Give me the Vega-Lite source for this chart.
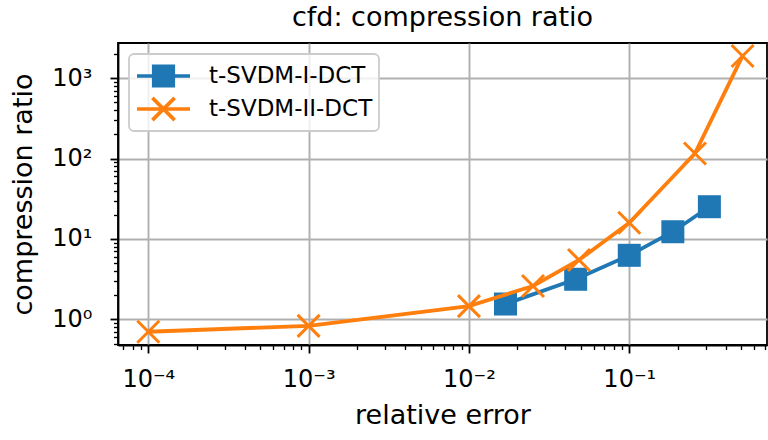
{
  "$schema": "https://vega.github.io/schema/vega-lite/v6.json",
  "width": 649,
  "height": 302,
  "autosize": "none",
  "padding": {"left": 118, "top": 43, "right": 1, "bottom": 95},
  "background": "white",
  "config": {
    "font": "DejaVu Sans",
    "view": {"stroke": "black", "strokeWidth": 1.8},
    "title": {"fontSize": 27, "font": "DejaVu Sans", "fontWeight": "normal", "color": "black"},
    "axis": {
      "domainColor": "black",
      "domainWidth": 1.8,
      "tickColor": "black",
      "labelFont": "DejaVu Sans",
      "labelFontSize": 24,
      "labelColor": "black",
      "titleFont": "DejaVu Sans",
      "titleFontSize": 27,
      "titleFontWeight": "normal",
      "titleColor": "black",
      "gridColor": "#b0b0b0",
      "gridWidth": 1.9,
      "labelOverlap": false,
      "labelFlush": false,
      "labelBound": false
    }
  },
  "title": {
    "text": "cfd: compression ratio",
    "font": "DejaVu Sans",
    "fontSize": 27,
    "fontWeight": "normal",
    "color": "black",
    "frame": "group",
    "anchor": "middle",
    "offset": 7
  },
  "data": {
    "values": [
      {"method": "t-SVDM-I-DCT", "err": 0.0169, "ratio": 1.55},
      {"method": "t-SVDM-I-DCT", "err": 0.0463, "ratio": 3.15},
      {"method": "t-SVDM-I-DCT", "err": 0.1, "ratio": 6.26},
      {"method": "t-SVDM-I-DCT", "err": 0.187, "ratio": 12.3},
      {"method": "t-SVDM-I-DCT", "err": 0.316, "ratio": 25.2},
      {"method": "t-SVDM-II-DCT", "err": 0.0001, "ratio": 0.70},
      {"method": "t-SVDM-II-DCT", "err": 0.001, "ratio": 0.83},
      {"method": "t-SVDM-II-DCT", "err": 0.01, "ratio": 1.46},
      {"method": "t-SVDM-II-DCT", "err": 0.0251, "ratio": 2.6},
      {"method": "t-SVDM-II-DCT", "err": 0.0486, "ratio": 5.47},
      {"method": "t-SVDM-II-DCT", "err": 0.1, "ratio": 15.9},
      {"method": "t-SVDM-II-DCT", "err": 0.257, "ratio": 116},
      {"method": "t-SVDM-II-DCT", "err": 0.509, "ratio": 1896}
    ]
  },
  "encoding": {
    "x": {
      "field": "err",
      "type": "quantitative",
      "scale": {"type": "log", "domain": [6.47e-5, 0.723], "nice": false},
      "axis": {
        "title": "relative error",
        "titlePadding": 11,
        "values": [7e-5, 8e-5, 9e-5, 1e-4, 2e-4, 3e-4, 4e-4, 5e-4, 6e-4, 7e-4, 8e-4, 9e-4, 1e-3, 2e-3, 3e-3, 4e-3, 5e-3, 6e-3, 7e-3, 8e-3, 9e-3, 1e-2, 2e-2, 3e-2, 4e-2, 5e-2, 6e-2, 7e-2, 8e-2, 9e-2, 0.1, 0.2, 0.3, 0.4, 0.5, 0.6, 0.7],
        "labelExpr": "abs(log(datum.value)/LN10 - round(log(datum.value)/LN10)) < 0.01 ? '10' + (datum.value < 1 ? '⁻' : '') + ['⁰','¹','²','³','⁴','⁵'][abs(round(log(datum.value)/LN10))] : ''",
        "labelPadding": 14,
        "gridOpacity": {"condition": {"test": "abs(log(datum.value)/LN10 - round(log(datum.value)/LN10)) < 0.01", "value": 1}, "value": 0},
        "tickSize": {"condition": {"test": "abs(log(datum.value)/LN10 - round(log(datum.value)/LN10)) < 0.01", "value": 8}, "value": 4.5},
        "tickWidth": {"condition": {"test": "abs(log(datum.value)/LN10 - round(log(datum.value)/LN10)) < 0.01", "value": 1.8}, "value": 1.35}
      }
    },
    "y": {
      "field": "ratio",
      "type": "quantitative",
      "scale": {"type": "log", "domain": [0.479, 2748], "nice": false},
      "axis": {
        "title": "compression ratio",
        "titlePadding": 14,
        "values": [0.5, 0.6, 0.7, 0.8, 0.9, 1, 2, 3, 4, 5, 6, 7, 8, 9, 10, 20, 30, 40, 50, 60, 70, 80, 90, 100, 200, 300, 400, 500, 600, 700, 800, 900, 1000, 2000],
        "labelExpr": "abs(log(datum.value)/LN10 - round(log(datum.value)/LN10)) < 0.01 ? '10' + (datum.value < 1 ? '⁻' : '') + ['⁰','¹','²','³','⁴','⁵'][abs(round(log(datum.value)/LN10))] : ''",
        "labelPadding": 18,
        "gridOpacity": {"condition": {"test": "abs(log(datum.value)/LN10 - round(log(datum.value)/LN10)) < 0.01", "value": 1}, "value": 0},
        "tickSize": {"condition": {"test": "abs(log(datum.value)/LN10 - round(log(datum.value)/LN10)) < 0.01", "value": 8}, "value": 4.5},
        "tickWidth": {"condition": {"test": "abs(log(datum.value)/LN10 - round(log(datum.value)/LN10)) < 0.01", "value": 1.8}, "value": 1.35}
      }
    },
    "color": {
      "field": "method",
      "type": "nominal",
      "scale": {"domain": ["t-SVDM-I-DCT", "t-SVDM-II-DCT"], "range": ["#1f77b4", "#ff7f0e"]},
      "legend": {
        "title": null,
        "orient": "top-left",
        "offset": 11,
        "padding": 6,
        "fillColor": "rgba(255,255,255,0.8)",
        "strokeColor": "#cccccc",
        "cornerRadius": 5,
        "labelFont": "DejaVu Sans",
        "labelFontSize": 23,
        "labelColor": "black",
        "labelOffset": 17,
        "labelLimit": 400,
        "symbolSize": 2809,
        "symbolStrokeWidth": 3.4,
        "clipHeight": 32,
        "rowPadding": 1,
        "encode": {
          "legend": {"update": {"strokeWidth": {"value": 1.8}, "width": {"value": 246}}},
          "symbols": {
            "update": {
              "shape": {"signal": "datum.value === 't-SVDM-I-DCT' ? 'M-1,0H1M-0.37,-0.37H0.37V0.37H-0.37Z' : 'M-1,0H1M-0.42,-0.42L0.42,0.42M-0.42,0.42L0.42,-0.42'"},
              "fill": {"signal": "datum.value === 't-SVDM-I-DCT' ? '#1f77b4' : '#ff7f0e'"},
              "stroke": {"signal": "datum.value === 't-SVDM-I-DCT' ? '#1f77b4' : '#ff7f0e'"},
              "strokeWidth": {"value": 3.6},
              "opacity": {"value": 1},
              "fillOpacity": {"value": 1}
            }
          }
        }
      }
    }
  },
  "layer": [
    {
      "transform": [{"filter": "datum.method === 't-SVDM-I-DCT'"}],
      "mark": {"type": "line", "strokeWidth": 3.8}
    },
    {
      "transform": [{"filter": "datum.method === 't-SVDM-I-DCT'"}],
      "mark": {"type": "point", "shape": "square", "filled": true, "size": 529, "opacity": 1}
    },
    {
      "transform": [{"filter": "datum.method === 't-SVDM-II-DCT'"}],
      "mark": {"type": "line", "strokeWidth": 3.8}
    },
    {
      "transform": [{"filter": "datum.method === 't-SVDM-II-DCT'"}],
      "mark": {"type": "point", "shape": "M-1,-1L1,1M-1,1L1,-1", "filled": false, "size": 484, "strokeWidth": 3, "opacity": 1}
    }
  ]
}
